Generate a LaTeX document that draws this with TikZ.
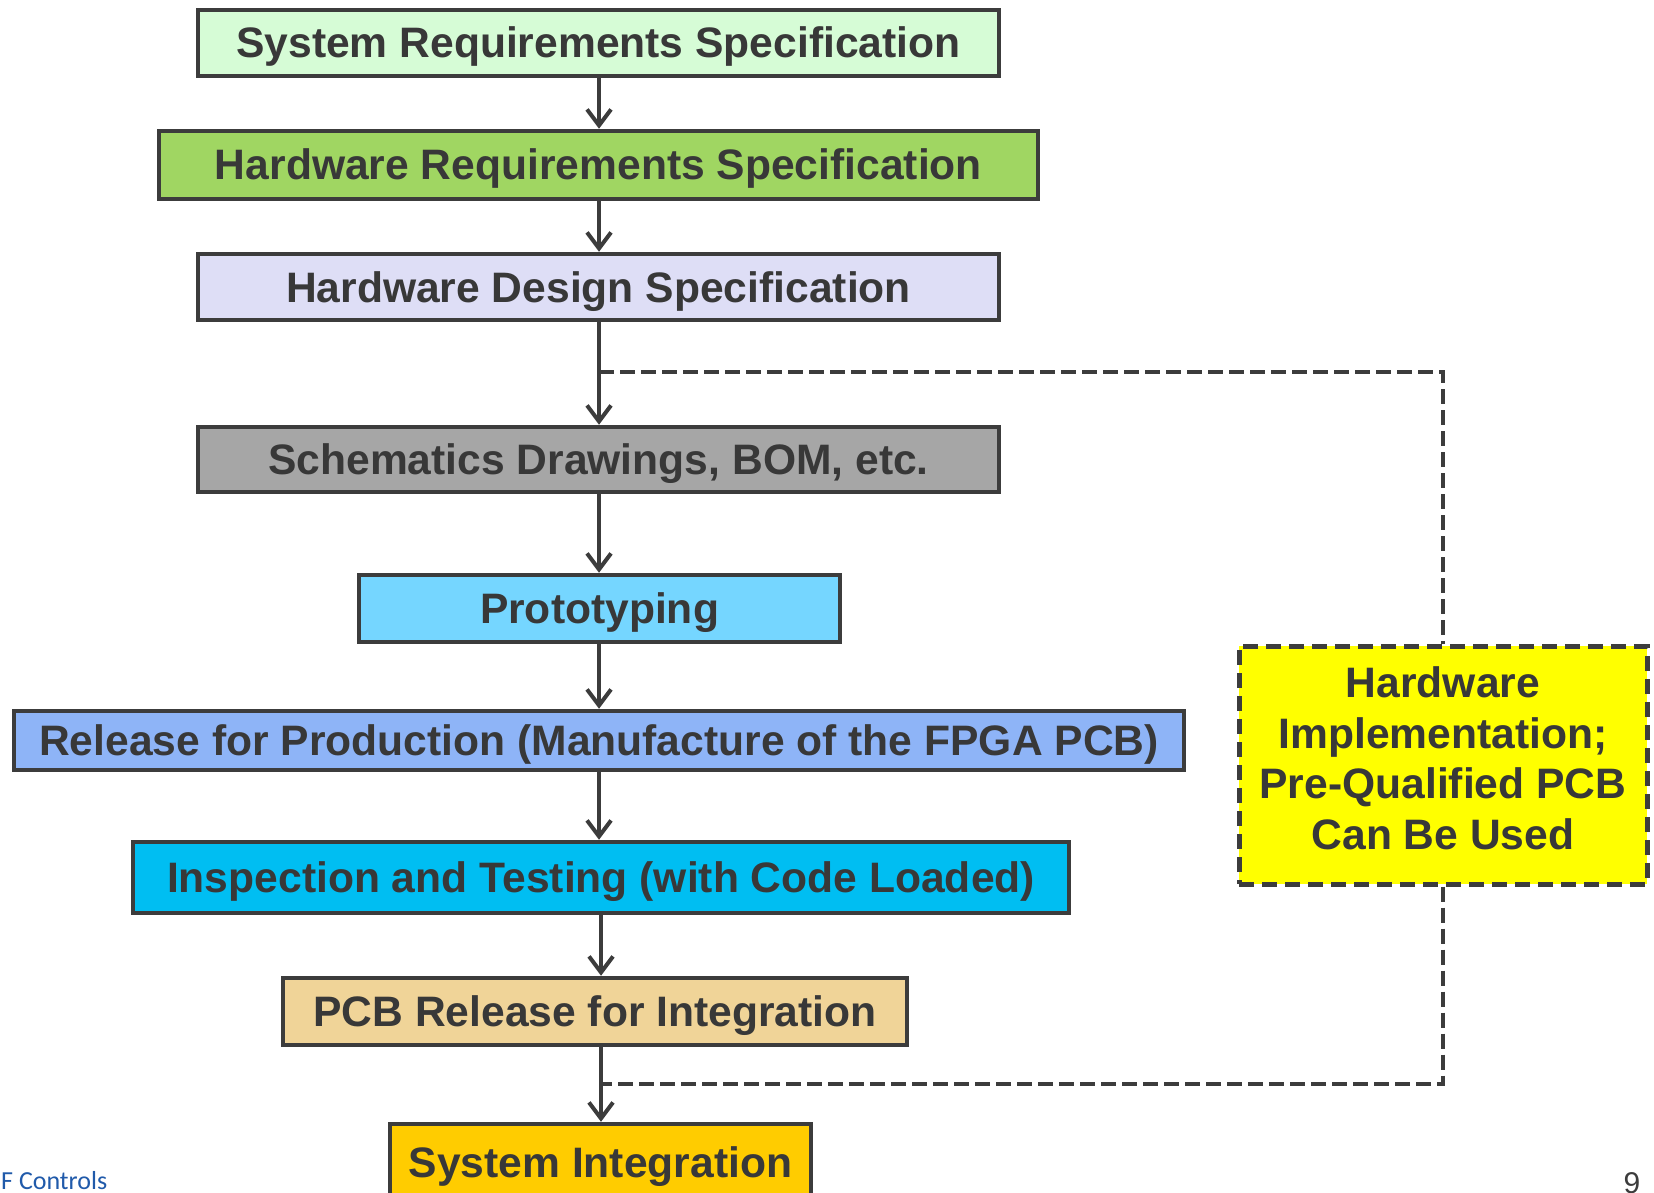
\documentclass[tikz,border=0pt]{standalone}
\usepackage{fontspec}
\setmainfont{Liberation Sans}
\newfontfamily\footfont{Carlito}
\usetikzlibrary{arrows.meta,calc}
\definecolor{edge}{RGB}{60,60,60}
\definecolor{txt}{RGB}{56,56,56}
\definecolor{cSRS}{RGB}{214,252,214}
\definecolor{cHRS}{RGB}{160,214,98}
\definecolor{cHDS}{RGB}{222,222,246}
\definecolor{cSCH}{RGB}{166,166,166}
\definecolor{cPRO}{RGB}{117,214,255}
\definecolor{cREL}{RGB}{142,180,247}
\definecolor{cINS}{RGB}{0,190,242}
\definecolor{cPCB}{RGB}{240,212,152}
\definecolor{cSYS}{RGB}{255,204,0}
\definecolor{cYEL}{RGB}{255,255,0}
\definecolor{footblue}{RGB}{32,90,170}
\begin{document}
\begin{tikzpicture}[x=1pt,y=-1pt,
  box/.style={draw=edge, line width=4.5pt, rectangle, inner sep=0pt, text=txt,
    text height=30pt, text depth=0pt,
    font=\fontsize{42.6}{50}\selectfont\bfseries},
  flow/.style={draw=edge, line width=4pt, -{Straight Barb[length=16pt,width=24pt]}},
  dashline/.style={draw=edge, line width=4.5pt, dash pattern=on 15pt off 6pt},
  dashbox/.style={draw=edge, line width=5pt, dash pattern=on 15pt off 8pt, rectangle,
    inner sep=0pt, text=txt, align=center, text depth=14pt,
    font=\fontsize{42.6}{50.6}\selectfont\bfseries}]
\clip (0,0) rectangle (1654,1193);
\fill[white] (0,0) rectangle (1654,1193);
\node[box, fill=cSRS, minimum width=801pt, minimum height=66pt] (srs) at (598.5,43) {System Requirements Specification};
\node[box, fill=cHRS, minimum width=879pt, minimum height=68pt] (hrs) at (598.5,165) {Hardware Requirements Specification};
\node[box, fill=cHDS, minimum width=801pt, minimum height=66pt] (hds) at (598.5,287) {Hardware Design Specification};
\node[box, fill=cSCH, minimum width=801pt, minimum height=65pt] (sch) at (598.5,459.5) {Schematics Drawings, BOM, etc.};
\node[box, fill=cPRO, minimum width=481pt, minimum height=67pt] (pro) at (599.5,608.5) {Prototyping};
\node[box, fill=cREL, minimum width=1170pt, minimum height=59pt] (rel) at (599,740.5) {Release for Production (Manufacture of the FPGA PCB)};
\node[box, fill=cINS, minimum width=936pt, minimum height=71pt] (ins) at (601,877.5) {Inspection and Testing (with Code Loaded)};
\node[box, fill=cPCB, minimum width=624pt, minimum height=67pt] (pcb) at (595,1011.5) {PCB Release for Integration};
\node[box, fill=cSYS, minimum width=421pt, minimum height=76pt] (sys) at (600.5,1162) {System Integration};
\node[dashbox, fill=cYEL, minimum width=408pt, minimum height=238pt] (yb) at (1443,765) {Hardware\\Implementation;\\Pre-Qualified PCB\\Can Be Used};
\coordinate (j1) at (599,372);
\coordinate (j2) at (601,1084);
\draw[flow] (srs.south -| 599,0) -- (hrs.north -| 599,0);
\draw[flow] (hrs.south -| 599,0) -- (hds.north -| 599,0);
\draw[flow] (hds.south -| 599,0) -- (sch.north -| 599,0);
\draw[flow] (sch.south -| 599,0) -- (pro.north -| 599,0);
\draw[flow] (pro.south -| 599,0) -- (rel.north -| 599,0);
\draw[flow] (rel.south -| 599,0) -- (ins.north -| 599,0);
\draw[flow] (ins.south -| 601,0) -- (pcb.north -| 601,0);
\draw[flow] (pcb.south -| 601,0) -- (sys.north -| 601,0);
\draw[dashline] (j1) -- (j1 -| yb.north) -- (yb.north);
\draw[dashline] (yb.south) -- (yb.south |- j2) -- (j2);
\node[anchor=base west, inner sep=0pt, text=footblue, font=\footfont\fontsize{26}{30}\selectfont] (foot) at (1,1189) {F Controls};
\node[anchor=base, inner sep=0pt, text=edge, font=\fontsize{30}{34}\selectfont] (pg) at (1632,1193) {9};
\end{tikzpicture}
\end{document}
